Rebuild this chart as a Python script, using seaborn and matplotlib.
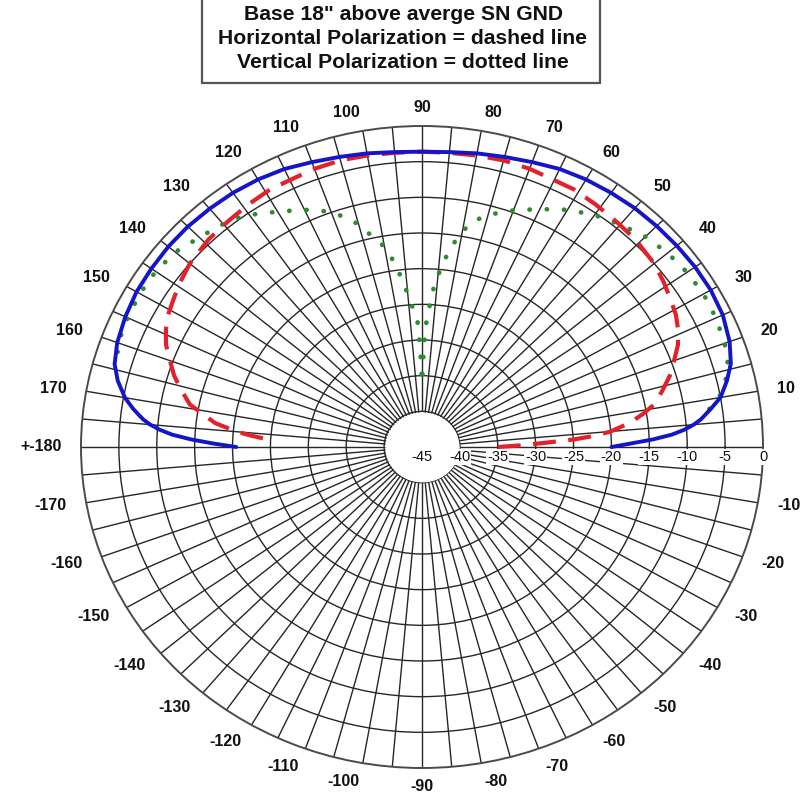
import numpy as np
import matplotlib
matplotlib.use("Agg")
import matplotlib.pyplot as plt
import matplotlib.transforms as mtransforms
from matplotlib.patches import Rectangle
import seaborn as sns

sns.set_theme(style="white")
plt.rcParams["font.family"] = ["Liberation Sans", "DejaVu Sans"]

# Elevation pattern, dB relative to maximum, angles in degrees
total_deg = [0, 1, 2, 3, 4, 5, 6, 8, 10, 13, 16, 20, 25, 30, 35, 40, 45, 50, 55, 60,
             65, 70, 75, 80, 85, 90, 95, 100, 105, 110, 115, 120, 125, 130, 135, 140,
             145, 150, 155, 160, 164, 167, 170, 172, 174, 175, 176, 177, 178, 179, 180]
total_db = [-20, -17.5, -14.5, -12, -10.3, -9, -8, -6.5, -5, -3.7, -2.6, -1.8, -1.2, -1.0,
            -1.0, -1.1, -1.2, -1.3, -1.5, -1.7, -2.0, -2.5, -2.9, -3.2, -3.5, -3.6, -3.5,
            -3.2, -2.9, -2.5, -2.0, -1.7, -1.5, -1.4, -1.3, -1.3, -1.4, -1.5, -1.8, -2.2,
            -2.8, -3.8, -5.2, -6.5, -8.0, -9.0, -10.3, -12, -14.5, -17.5, -20.5]

horiz_deg = [0, 1, 2, 3, 4, 5, 7, 9, 11, 14, 17, 20, 23, 26, 29, 33, 36, 40, 46, 51, 56,
             61, 66, 70, 75, 80, 85, 90, 95, 100, 105, 110, 114, 119, 124, 129, 134,
             140, 144, 147, 151, 154, 157, 160, 163, 166, 169, 171, 173, 175, 176, 177.5]
horiz_db = [-35, -32, -29, -25, -22, -20, -17.4, -15.5, -13.8, -12.3, -10.8, -9.6, -8.3,
            -7.4, -6.7, -6.1, -5.6, -5.0, -4.5, -4.3, -4.0, -3.7, -3.7, -3.5, -3.4, -3.5,
            -3.6, -3.6, -3.6, -3.5, -3.4, -3.5, -3.7, -3.7, -4.0, -4.3, -4.5, -5.0, -5.6,
            -6.1, -6.7, -7.4, -8.3, -9.6, -10.8, -12.3, -13.8, -15.8, -17.5, -20.5, -22.5, -25.5]

vert_deg = [8, 10, 13, 16, 20, 25, 30, 35, 40, 45, 50, 55, 60, 65, 70, 75, 78, 80, 82, 84,
            86, 88, 89, 90, 91, 92, 94, 96, 98, 100, 104, 106, 110, 115, 120, 126, 130,
            134, 140, 145, 150, 157, 162, 164]
vert_db = [-6.7, -5.2, -3.9, -3.0, -2.5, -2.2, -2.1, -2.3, -2.7, -3.3, -4.3, -5.3, -6.6,
           -8.2, -9.7, -11.3, -12.7, -14.3, -16.5, -19.2, -22.5, -27, -31, -36, -31, -27,
           -25, -21.9, -18.9, -16.5, -13.6, -12.0, -9.9, -8.3, -6.9, -4.9, -4.2, -3.6,
           -2.5, -2.1, -2.0, -2.1, -2.7, -3.0]

ring_values = [-45, -40, -35, -30, -25, -20, -15, -10, -5, 0]
angle_labels = {a: str(a) for a in range(10, 180, 10)}
angle_labels.update({-a: str(-a) for a in range(10, 180, 10)})
angle_labels[180] = "+-180"

title_lines = ["Base 18\" above averge SN GND",
               "Horizontal Polarization = dashed line",
               "Vertical Polarization = dotted line"]

W, H = 806, 797
fig = plt.figure(figsize=(W / 100, H / 100), dpi=100)

cx, cy = 422, 447          # pattern centre in pixels (from top-left)
rx, ry = 341, 321          # outer ring half-axes in pixels
ax = fig.add_axes([(cx - rx) / W, (H - cy - ry) / H, 2 * rx / W, 2 * ry / H],
                  projection="polar")
ax.set_aspect("auto")
ax.set_theta_zero_location("E")
ax.set_rlim(-45, 0)
ax.set_axisbelow(True)

ax.set_xticks(np.deg2rad(np.arange(0, 360, 5)))
ax.set_xticklabels([])
ax.set_yticks(ring_values[1:-1])
ax.set_yticklabels([])
ax.grid(True, color="#262626", linewidth=1.0)
ax.spines["polar"].set_color("#4a4a4a")
ax.spines["polar"].set_linewidth(1.4)

# white hub over the crowded spokes
hub = np.linspace(0, 2 * np.pi, 361)
ax.fill_between(hub, -45, -40.2, color="white", zorder=1.5)

sns.lineplot(x=np.deg2rad(vert_deg), y=vert_db, ax=ax, sort=False, color="#2f8a35",
             linewidth=3.4, linestyle=(0, (0.05, 3.6)), dash_capstyle="round",
             errorbar=None, zorder=3)
sns.lineplot(x=np.deg2rad(horiz_deg), y=horiz_db, ax=ax, sort=False, color="#e3212b",
             linewidth=3.0, linestyle=(0, (5.5, 3.0)), errorbar=None, zorder=4)
sns.lineplot(x=np.deg2rad(total_deg), y=total_db, ax=ax, sort=False, color="#1414c8",
             linewidth=2.8, errorbar=None, zorder=5)
ax.set_xlabel("")
ax.set_ylabel("")

# dB scale along the 0 degree axis
below = mtransforms.offset_copy(ax.transData, fig=fig, x=0, y=-10, units="dots")
for v in ring_values:
    ax.text(0, v, str(v), transform=below, ha="center", va="center", fontsize=10.5,
            color="#111111", zorder=6,
            bbox=dict(boxstyle="square,pad=0.05", fc="white", ec="none"))

# elevation angle labels around the rim, anchored just outside the ring
for a, lab in angle_labels.items():
    c = np.cos(np.deg2rad(a))
    ha = "left" if c > 0.05 else ("right" if c < -0.05 else "center")
    ax.text(np.deg2rad(a), 2.6, lab, ha=ha, va="center", fontsize=11.5,
            fontweight="bold", color="#111111", clip_on=False)

# caption box at the top
x0, x1, ybot = 202, 600, 83
fig.patches.append(Rectangle((x0 / W, (H - ybot) / H), (x1 - x0) / W, (ybot + 10) / H,
                             transform=fig.transFigure, fc="white", ec="#555555",
                             lw=1.6, zorder=10))
for i, line in enumerate(title_lines):
    fig.text(403 / W, (H - 15 - 23.5 * i) / H, line, ha="center", va="center",
             fontsize=15.2, fontweight="bold", color="#111111", zorder=11)

fig.savefig("out.png", dpi=100, facecolor="white")
